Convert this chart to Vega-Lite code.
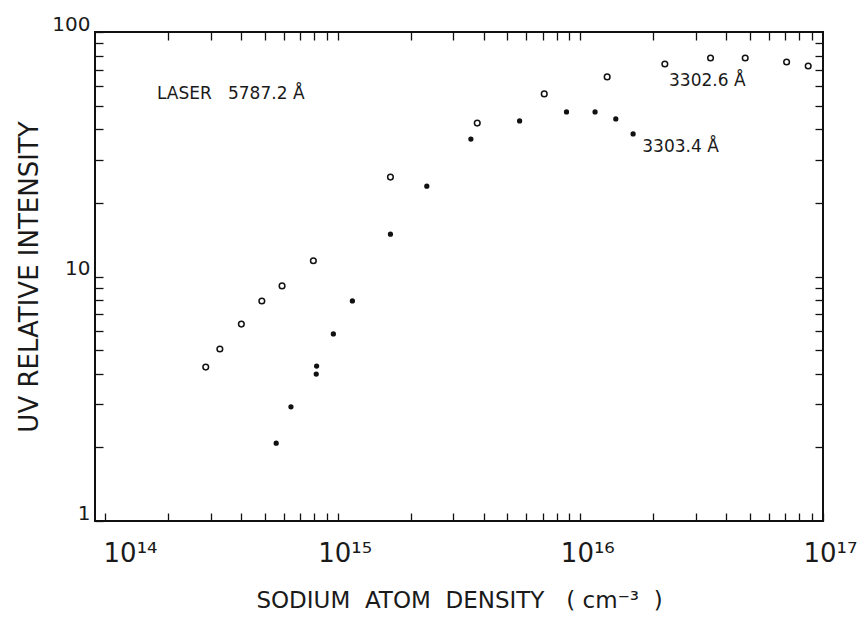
{
  "$schema": "https://vega.github.io/schema/vega-lite/v6.json",
  "autosize": {"type": "none"},
  "padding": {"left": 95, "top": 32, "right": 45, "bottom": 118},
  "width": 728,
  "height": 489,
  "background": "white",
  "config": {
    "font": "DejaVu Sans",
    "view": {"stroke": "#111111", "strokeWidth": 2},
    "axis": {"grid": false, "domain": false, "tickColor": "#111111", "tickWidth": 1.3, "labelColor": "#1a1a1a", "titleColor": "#1a1a1a", "labelFont": "DejaVu Sans", "titleFont": "DejaVu Sans", "titleFontWeight": "normal"}
  },
  "datasets": {
    "points": [
      {"density": 2.86e14, "intensity": 4.26, "series": "3302.6"},
      {"density": 3.27e14, "intensity": 5.05, "series": "3302.6"},
      {"density": 4.01e14, "intensity": 6.39, "series": "3302.6"},
      {"density": 4.87e14, "intensity": 7.94, "series": "3302.6"},
      {"density": 5.90e14, "intensity": 9.15, "series": "3302.6"},
      {"density": 7.94e14, "intensity": 11.6, "series": "3302.6"},
      {"density": 1.65e15, "intensity": 25.5, "series": "3302.6"},
      {"density": 3.76e15, "intensity": 42.4, "series": "3302.6"},
      {"density": 7.10e15, "intensity": 55.8, "series": "3302.6"},
      {"density": 1.29e16, "intensity": 65.5, "series": "3302.6"},
      {"density": 2.23e16, "intensity": 74.0, "series": "3302.6"},
      {"density": 3.44e16, "intensity": 78.3, "series": "3302.6"},
      {"density": 4.78e16, "intensity": 78.3, "series": "3302.6"},
      {"density": 7.08e16, "intensity": 75.4, "series": "3302.6"},
      {"density": 8.69e16, "intensity": 72.6, "series": "3302.6"},
      {"density": 5.58e14, "intensity": 2.08, "series": "3303.4"},
      {"density": 6.42e14, "intensity": 2.93, "series": "3303.4"},
      {"density": 8.19e14, "intensity": 4.30, "series": "3303.4"},
      {"density": 8.16e14, "intensity": 3.99, "series": "3303.4"},
      {"density": 9.60e14, "intensity": 5.82, "series": "3303.4"},
      {"density": 1.15e15, "intensity": 7.94, "series": "3303.4"},
      {"density": 1.65e15, "intensity": 14.9, "series": "3303.4"},
      {"density": 2.33e15, "intensity": 23.4, "series": "3303.4"},
      {"density": 3.54e15, "intensity": 36.5, "series": "3303.4"},
      {"density": 5.62e15, "intensity": 43.3, "series": "3303.4"},
      {"density": 8.77e15, "intensity": 47.1, "series": "3303.4"},
      {"density": 1.15e16, "intensity": 47.1, "series": "3303.4"},
      {"density": 1.40e16, "intensity": 44.1, "series": "3303.4"},
      {"density": 1.65e16, "intensity": 38.3, "series": "3303.4"}
    ],
    "labels": [
      {"density": 1.8e14, "intensity": 56, "text": "LASER\u00a0\u00a0\u00a05787.2 Å"},
      {"density": 2.32e16, "intensity": 63, "text": "3302.6 Å"},
      {"density": 1.8e16, "intensity": 33.7, "text": "3303.4 Å"}
    ]
  },
  "layer": [
    {
      "data": {"name": "points"},
      "mark": {"type": "point", "shape": "circle", "stroke": "#111111", "strokeWidth": 1.5, "opacity": 1},
      "encoding": {
        "x": {
          "field": "density", "type": "quantitative",
          "scale": {"type": "log", "domain": [1.1e14, 1e17]},
          "axis": {
            "orient": "bottom",
            "title": "SODIUM\u00a0\u00a0ATOM\u00a0\u00a0DENSITY\u00a0\u00a0\u00a0(\u00a0cm⁻³\u00a0\u00a0)",
            "titleFontSize": 23,
            "titlePadding": 23,
            "values": [1.1e14, 2e14, 3e14, 4e14, 5e14, 6e14, 7e14, 8e14, 9e14, 1e15, 2e15, 3e15, 4e15, 5e15, 6e15, 7e15, 8e15, 9e15, 1e16, 2e16, 3e16, 4e16, 5e16, 6e16, 7e16, 8e16, 9e16, 1e17],
            "labelExpr": "datum.value == 1.1e14 ? '10¹⁴' : datum.value == 1e15 ? '10¹⁵' : datum.value == 1e16 ? '10¹⁶' : datum.value == 1e17 ? '10¹⁷' : ''",
            "labelFontSize": 26,
            "labelPadding": 27,
            "labelOffset": {"condition": {"test": "datum.value < 2e14", "value": 25}, "value": 7},
            "labelFlush": false,
            "labelOverlap": false,
            "tickSize": -8
          }
        },
        "y": {
          "field": "intensity", "type": "quantitative",
          "scale": {"type": "log", "domain": [1, 100]},
          "axis": {
            "orient": "left",
            "title": "UV RELATIVE INTENSITY",
            "titleFontSize": 26,
            "titlePadding": 9,
            "values": [1, 2, 3, 4, 5, 6, 7, 8, 9, 10, 20, 30, 40, 50, 60, 70, 80, 90, 100],
            "labelExpr": "datum.value == 1 ? '1' : datum.value == 10 ? '10' : datum.value == 100 ? '100' : ''",
            "labelFontSize": 20,
            "labelPadding": 13,
            "labelOffset": -8,
            "labelFlush": false,
            "labelOverlap": false,
            "tickSize": -8
          }
        },
        "fill": {"field": "series", "type": "nominal", "scale": {"domain": ["3302.6", "3303.4"], "range": ["white", "#111111"]}, "legend": null},
        "size": {"field": "series", "type": "ordinal", "scale": {"domain": ["3302.6", "3303.4"], "range": [32, 14]}, "legend": null}
      }
    },
    {
      "data": {"name": "labels"},
      "mark": {"type": "text", "align": "left", "baseline": "middle", "fontSize": 17, "color": "#1a1a1a", "font": "DejaVu Sans"},
      "encoding": {
        "x": {"field": "density", "type": "quantitative", "axis": null},
        "y": {"field": "intensity", "type": "quantitative", "axis": null},
        "text": {"field": "text", "type": "nominal"}
      }
    },
    {
      "data": {"name": "points"},
      "mark": {"type": "point", "opacity": 0},
      "encoding": {
        "x": {
          "field": "density", "type": "quantitative",
          "axis": {
            "orient": "top", "title": null, "labels": false,
            "values": [2e14, 3e14, 4e14, 5e14, 6e14, 7e14, 8e14, 9e14, 1e15, 2e15, 3e15, 4e15, 5e15, 6e15, 7e15, 8e15, 9e15, 1e16, 2e16, 3e16, 4e16, 5e16, 6e16, 7e16, 8e16, 9e16],
            "tickSize": -8
          }
        },
        "y": {
          "field": "intensity", "type": "quantitative",
          "axis": {
            "orient": "right", "title": null, "labels": false,
            "values": [2, 3, 4, 5, 6, 7, 8, 9, 10, 20, 30, 40, 50, 60, 70, 80, 90],
            "tickSize": -8
          }
        }
      }
    }
  ],
  "resolve": {"axis": {"x": "independent", "y": "independent"}}
}
